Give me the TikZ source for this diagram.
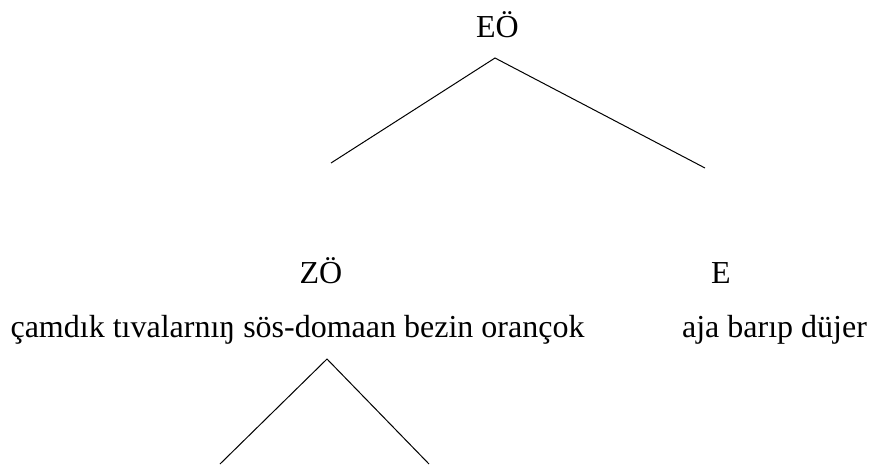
\documentclass[tikz,border=0pt]{standalone}
\usepackage{fontspec}
\setmainfont{Liberation Serif}
\begin{document}
\begin{tikzpicture}[x=1pt,y=-1pt,
  lbl/.style={anchor=base,inner sep=0pt,font=\fontsize{32}{38}\selectfont},
  edge/.style={line width=1pt,black}]
\useasboundingbox (0,0) rectangle (881,464);
\node[lbl] (eo) at (497.5,37) {EÖ};
\node[lbl] (zo) at (321,283) {ZÖ};
\node[lbl] (e) at (721,283) {E};
\node[lbl] (t1) at (297.5,337) {çamdık tıvalarnıŋ sös-domaan bezin orançok};
\node[lbl] (t2) at (774.5,337) {aja barıp düjer};
\coordinate (apex) at (495,58);
\coordinate (lend) at (331,163);
\coordinate (rend) at (705,168);
\coordinate (apex2) at (327,359);
\coordinate (l2) at (220,464);
\coordinate (r2) at (429,464);
\draw[edge] (lend) -- (apex) -- (rend);
\draw[edge] (l2) -- (apex2) -- (r2);
\end{tikzpicture}
\end{document}
